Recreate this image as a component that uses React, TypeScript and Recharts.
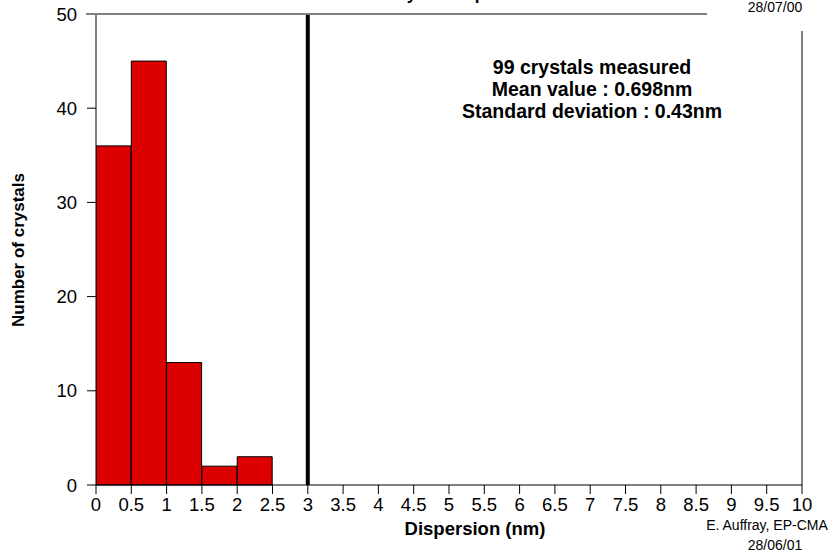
import React from 'react';
import { ComposedChart, Bar, XAxis, YAxis, ReferenceLine } from 'recharts';

// Histogram bins (centre of each 0.5 nm bin) and crystal counts
const binCenters = [0.25, 0.75, 1.25, 1.75, 2.25, 2.75, 3.25, 3.75, 4.25, 4.75, 5.25, 5.75, 6.25, 6.75, 7.25, 7.75, 8.25, 8.75, 9.25, 9.75];
const counts = [36, 45, 13, 2, 3, 0, 0, 0, 0, 0, 0, 0, 0, 0, 0, 0, 0, 0, 0, 0];
const xTicks = [0, 0.5, 1, 1.5, 2, 2.5, 3, 3.5, 4, 4.5, 5, 5.5, 6, 6.5, 7, 7.5, 8, 8.5, 9, 9.5, 10];
const yTicks = [0, 10, 20, 30, 40, 50];
const cutValue = 3;
const infoLines = ['99 crystals measured', 'Mean value : 0.698nm', 'Standard deviation : 0.43nm'];

const data = binCenters.map((c, i) => ({ bin: c, count: counts[i] }));

const FONT = '"Liberation Sans", Arial, Helvetica, sans-serif';

export default function App() {
  return (
    <div style={{ position: 'absolute', left: 0, top: 0, width: 840, height: 556, background: '#fff', fontFamily: FONT }}>
      <ComposedChart
        width={840}
        height={556}
        data={data}
        margin={{ top: 14, right: 38, left: 0, bottom: 31 }}
        barCategoryGap={0}
        barGap={0}
      >
        <XAxis
          dataKey="bin"
          type="number"
          domain={[0, 10]}
          ticks={xTicks}
          interval={0}
          height={40}
          tickSize={9}
          tickMargin={4}
          axisLine={{ stroke: '#000', strokeWidth: 1 }}
          tickLine={{ stroke: '#000', strokeWidth: 1 }}
          tick={{ fill: '#000', fontSize: 18.5, fontFamily: FONT }}
          allowDataOverflow
        />
        <YAxis
          type="number"
          domain={[0, 50]}
          ticks={yTicks}
          interval={0}
          width={96}
          tickSize={9}
          tickMargin={10}
          axisLine={{ stroke: '#000', strokeWidth: 1 }}
          tickLine={{ stroke: '#000', strokeWidth: 1 }}
          tick={{ fill: '#000', fontSize: 18.5, fontFamily: FONT }}
        />
        <Bar
          dataKey="count"
          fill="#dd0000"
          stroke="#000"
          strokeWidth={1}
          isAnimationActive={false}
        />
        <ReferenceLine x={cutValue} stroke="#000" strokeWidth={4} />
      </ComposedChart>
      <svg
        width={840}
        height={556}
        style={{ position: 'absolute', left: 0, top: 0, pointerEvents: 'none' }}
        fontFamily={FONT}
      >
        <text x={462} y={0} textAnchor="middle" fontSize={17} fontWeight="bold" fill="#000">Crystal dispersion</text>
        <line x1={86} y1={14} x2={707} y2={14} stroke="#808080" strokeWidth={2} />
        <line x1={802} y1={31} x2={802} y2={485} stroke="#000" strokeWidth={1} />
        <text x={775} y={12} textAnchor="middle" fontSize={14} fill="#000">28/07/00</text>
        {infoLines.map((t, i) => (
          <text key={t} x={592} y={74 + i * 22} textAnchor="middle" fontSize={19.5} fontWeight="bold" fill="#000">{t}</text>
        ))}
        <text
          x={24}
          y={250}
          textAnchor="middle"
          fontSize={17}
          fontWeight="bold"
          fill="#000"
          transform="rotate(-90 24 250)"
        >Number of crystals</text>
        <text x={475} y={535} textAnchor="middle" fontSize={18.5} fontWeight="bold" fill="#000">Dispersion (nm)</text>
        <text x={767} y={530} textAnchor="middle" fontSize={14} fill="#000">E. Auffray, EP-CMA</text>
        <text x={775} y={550} textAnchor="middle" fontSize={14} fill="#000">28/06/01</text>
      </svg>
    </div>
  );
}
